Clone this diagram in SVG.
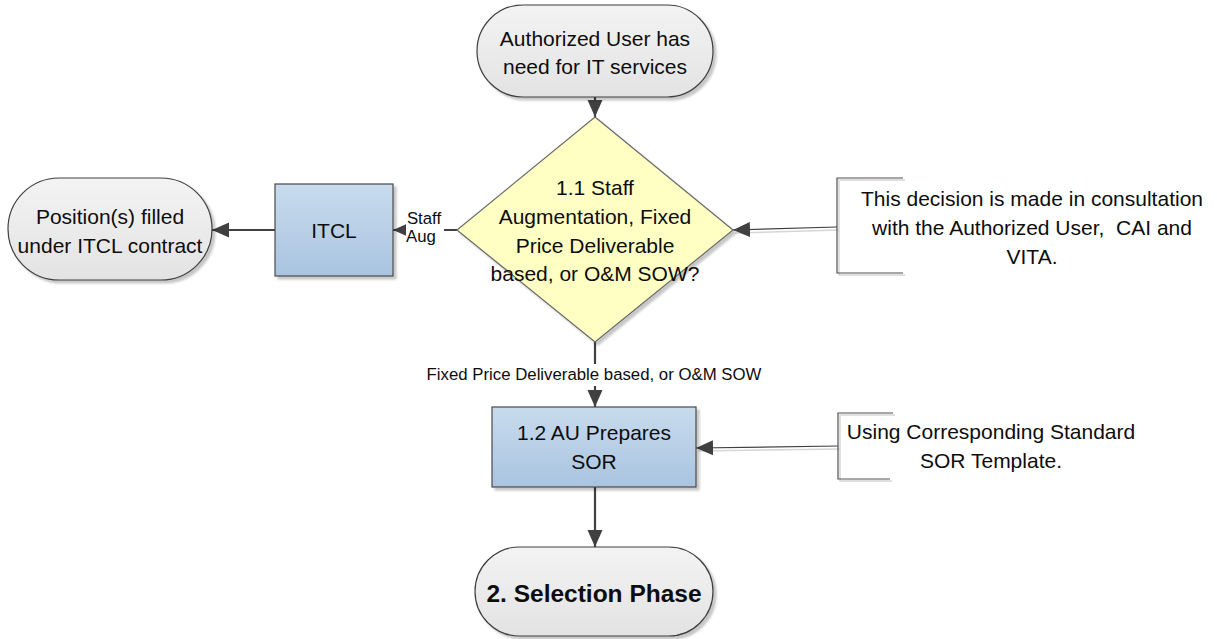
<svg xmlns="http://www.w3.org/2000/svg" width="1217" height="639" viewBox="0 0 1217 639">
<style>
text{font-family:"Liberation Sans",Arial,sans-serif;fill:#0d0d0d;text-anchor:middle}
.t{font-size:21px}
.lbl{font-size:16.8px}
.term{fill:url(#gTerm);stroke:#3f3f3f;stroke-width:1.2}
.box{fill:url(#gBox);stroke:#4a4a4a;stroke-width:1.2}
.dia{fill:#ffffc4;stroke:#6a6a6a;stroke-width:1.2}
.sh{filter:url(#shadow)}
.conn{fill:none;stroke:#404040;stroke-width:2.2;marker-end:url(#arr)}
.thin{fill:none;stroke:#404040;stroke-width:1.2;marker-end:url(#arr)}
.brk{fill:none;stroke:#505050;stroke-width:1.2}
.brks{fill:none;stroke:#d6d6d6;stroke-width:1.5}
</style>
<defs>
<linearGradient id="gTerm" x1="0" y1="0" x2="0" y2="1">
<stop offset="0" stop-color="#f3f3f3"/><stop offset="1" stop-color="#e3e3e3"/>
</linearGradient>
<linearGradient id="gBox" x1="0" y1="0" x2="0" y2="1">
<stop offset="0" stop-color="#c8dbed"/><stop offset="1" stop-color="#a9c4e0"/>
</linearGradient>
<filter id="shadow" x="-10%" y="-10%" width="130%" height="130%">
<feDropShadow dx="3" dy="3" stdDeviation="1.2" flood-color="#000" flood-opacity="0.22"/>
</filter>
<marker id="arr" markerUnits="userSpaceOnUse" markerWidth="18" markerHeight="16" refX="17" refY="7.5" orient="auto">
<path d="M0,0 L17,7.5 L0,15 Z" fill="#404040"/>
</marker>
</defs>

<g id="connectors">
<path class="conn" d="M595,97 L595,117"/>
<path class="conn" d="M457,230 L393,230"/>
<rect x="406" y="210" width="38" height="40" fill="#fff"/>
<text class="lbl" x="424" y="224">Staff</text>
<text class="lbl" x="421" y="242">Aug</text>
<path class="conn" d="M275,230 L212,230"/>
<path class="brks" d="M839,230 L735,233"/>
<path class="thin" d="M837,227 L733,230"/>
<path class="conn" d="M595,342 L595,407"/>
<rect x="420" y="364" width="350" height="22" fill="#fff"/>
<text class="lbl" x="594" y="380">Fixed Price Deliverable based, or O&amp;M SOW</text>
<path class="brks" d="M840,449 L698,451"/>
<path class="thin" d="M838,446 L696,448"/>
<path class="conn" d="M595,487 L595,547"/>
</g>

<g id="n-start">
<rect class="term sh" x="477" y="5" width="236" height="92" rx="46" ry="46"/>
<text class="t" x="595" y="46">Authorized User has</text>
<text class="t" x="595" y="74">need for IT services</text>
</g>

<g id="n-decision">
<path class="dia sh" d="M595,117 L733,230 L595,342 L457,230 Z"/>
<text class="t" x="595" y="195">1.1 Staff</text>
<text class="t" x="595" y="224">Augmentation, Fixed</text>
<text class="t" x="595" y="253">Price Deliverable</text>
<text class="t" x="595" y="281">based, or O&amp;M SOW?</text>
</g>

<g id="n-itcl">
<rect class="box sh" x="275" y="184" width="118" height="92"/>
<text class="t" x="334" y="238">ITCL</text>
</g>

<g id="n-position">
<rect class="term sh" x="8" y="178" width="204" height="102" rx="51" ry="51"/>
<text class="t" x="110" y="224">Position(s) filled</text>
<text class="t" x="110" y="253">under ITCL contract</text>
</g>

<g id="n-note1">
<path class="brks" d="M905,180 L839,180 L839,275 L905,275"/>
<path class="brk" d="M903,178 L837,178 L837,273 L903,273"/>
<text class="t" x="1032" y="206">This decision is made in consultation</text>
<text class="t" x="1032" y="235" style="white-space:pre">with the Authorized User,  CAI and</text>
<text class="t" x="1032" y="264">VITA.</text>
</g>

<g id="n-sor">
<rect class="box sh" x="492" y="407" width="204" height="80"/>
<text class="t" x="594" y="440">1.2 AU Prepares</text>
<text class="t" x="594" y="469">SOR</text>
</g>

<g id="n-note2">
<path class="brks" d="M895,415 L840,415 L840,481 L892,481"/>
<path class="brk" d="M893,413 L838,413 L838,479 L890,479"/>
<text class="t" x="991" y="439">Using Corresponding Standard</text>
<text class="t" x="991" y="468">SOR Template.</text>
</g>

<g id="n-selection">
<rect class="term sh" x="475" y="547" width="238" height="89" rx="44.5" ry="44.5"/>
<text x="594" y="602" style="font-size:24.5px;font-weight:bold">2. Selection Phase</text>
</g>
</svg>
